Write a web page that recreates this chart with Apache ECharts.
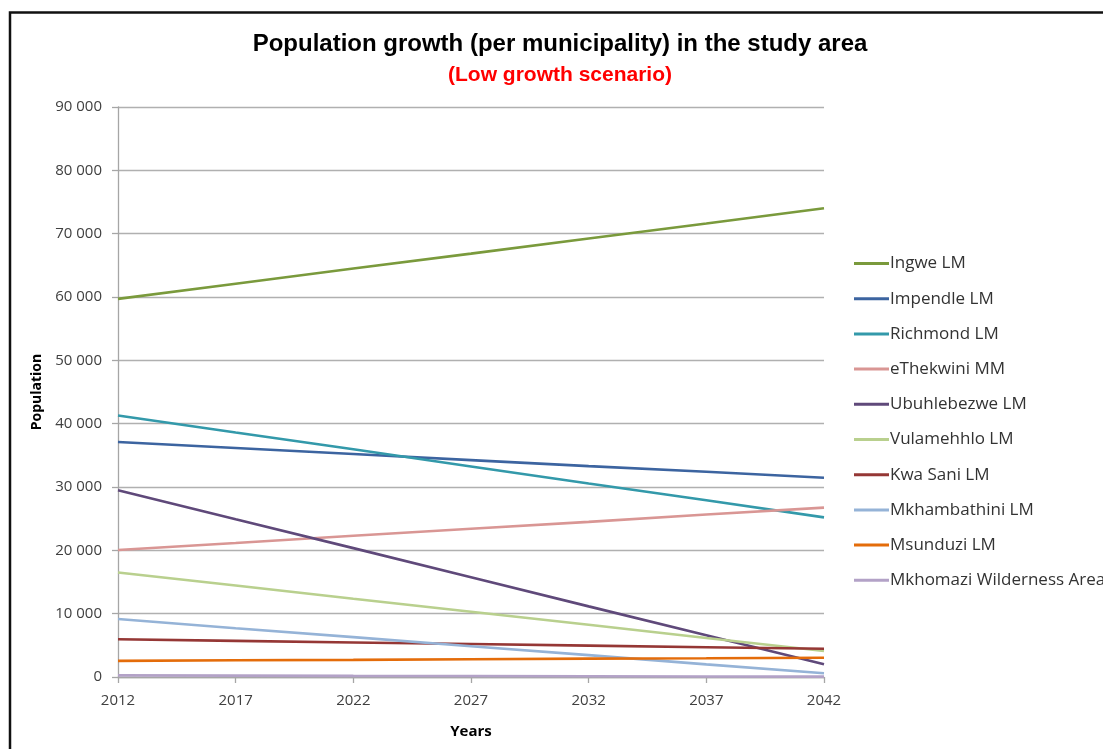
<!DOCTYPE html>
<html>
<head>
<meta charset="utf-8">
<title>Population growth (per municipality) in the study area</title>
<script src="https://cdn.jsdelivr.net/npm/echarts@6/dist/echarts.min.js"></script>
<style>
  html, body { margin: 0; padding: 0; background: #ffffff; }
  #chart { width: 1103px; height: 749px; }
</style>
</head>
<body>
<div id="chart"></div>
<script>
// Projection years shown on the horizontal axis
const years = ['2012', '2017', '2022', '2027', '2032', '2037', '2042'];

// Projected population per municipality (low growth scenario)
const ingwe        = [59700, 62100, 64500, 66850, 69250, 71600, 74000];
const impendle     = [37100, 36150, 35200, 34250, 33300, 32400, 31450];
const richmond     = [41300, 38600, 35950, 33250, 30550, 27900, 25200];
const eThekwini    = [20050, 21150, 22300, 23400, 24500, 25650, 26750];
const ubuhlebezwe  = [29500, 24900, 20350, 15750, 11150, 6600, 2000];
const vulamehhlo   = [16500, 14450, 12350, 10300, 8250, 6150, 4100];
const kwaSani      = [5950, 5700, 5450, 5200, 4950, 4700, 4450];
const mkhambathini = [9150, 7700, 6300, 4850, 3450, 2000, 600];
const msunduzi     = [2550, 2650, 2700, 2800, 2900, 2950, 3050];
const mkhomazi     = [250, 220, 180, 150, 120, 90, 60];

// Value axis tick range
const yTicks = { min: 0, max: 90000, interval: 10000 };

const seriesDefs = [
  { name: 'Ingwe LM',                 data: ingwe,        color: '#7a9a3c' },
  { name: 'Impendle LM',              data: impendle,     color: '#3c64a0' },
  { name: 'Richmond LM',              data: richmond,     color: '#3399aa' },
  { name: 'eThekwini MM',             data: eThekwini,    color: '#d99694' },
  { name: 'Ubuhlebezwe LM',           data: ubuhlebezwe,  color: '#5f497a' },
  { name: 'Vulamehhlo LM',            data: vulamehhlo,   color: '#b9d08e' },
  { name: 'Kwa Sani LM',              data: kwaSani,      color: '#953735' },
  { name: 'Mkhambathini LM',          data: mkhambathini, color: '#95b3d7' },
  { name: 'Msunduzi LM',              data: msunduzi,     color: '#e46c0a' },
  { name: 'Mkhomazi Wilderness Area', data: mkhomazi,     color: '#b3a2c7' }
];

const FONT = '"Open Sans", "Liberation Sans", sans-serif';
const TITLE_FONT = '"Liberation Sans Narrow", "Liberation Sans", sans-serif';

const chart = echarts.init(document.getElementById('chart'), null, { renderer: 'canvas' });

chart.setOption({
  backgroundColor: '#ffffff',
  animation: false,
  textStyle: { fontFamily: FONT },
  title: [
    {
      text: 'Population growth (per municipality) in the study area',
      left: 555, top: 27, textAlign: 'center',
      textStyle: { fontFamily: TITLE_FONT, fontSize: 24, fontWeight: 'bold', color: '#000000' }
    },
    {
      text: '(Low growth scenario)',
      left: 555, top: 60, textAlign: 'center',
      textStyle: { fontFamily: TITLE_FONT, fontSize: 21, fontWeight: 'bold', color: '#ff0000' }
    }
  ],
  graphic: [
    {
      // outer chart frame
      type: 'rect', silent: true, z: 100,
      shape: { x: 10, y: 12.5, width: 1200, height: 800 },
      style: { fill: 'none', stroke: '#111111', lineWidth: 2.5 }
    }
  ],
  legend: {
    orient: 'vertical',
    left: 849, top: 250,
    itemWidth: 35, itemHeight: 3, itemGap: 18.2,
    icon: 'rect',
    data: seriesDefs.map(s => s.name),
    textStyle: { fontFamily: FONT, fontSize: 17, color: '#333333', padding: [0, 0, 0, -4] }
  },
  grid: { left: 118, right: 279, top: 107, bottom: 72, containLabel: false },
  xAxis: {
    type: 'category',
    data: years,
    boundaryGap: false,
    name: 'Years',
    nameLocation: 'middle',
    nameGap: 47,
    nameTextStyle: { fontFamily: FONT, fontSize: 15, fontWeight: 'bold', color: '#000000' },
    axisLine: { lineStyle: { color: '#a6a6a6', width: 1.3 } },
    axisTick: { show: true, inside: false, length: 6, lineStyle: { color: '#a6a6a6', width: 1.3 } },
    axisLabel: { fontFamily: FONT, fontSize: 15, color: '#404040', margin: 16 },
    splitLine: { show: false }
  },
  yAxis: {
    type: 'value',
    min: yTicks.min, max: yTicks.max, interval: yTicks.interval,
    name: 'Population',
    nameLocation: 'middle',
    nameGap: 73,
    nameRotate: 90,
    nameTextStyle: { fontFamily: FONT, fontSize: 14, fontWeight: 'bold', color: '#000000' },
    axisLine: { show: true, lineStyle: { color: '#a6a6a6', width: 1.3 } },
    axisTick: { show: true, inside: false, length: 6, lineStyle: { color: '#a6a6a6', width: 1.3 } },
    axisLabel: {
      fontFamily: FONT, fontSize: 15, color: '#404040', margin: 16,
      formatter: v => v === 0 ? '0' : String(v).replace(/\B(?=(\d{3})+(?!\d))/g, ' ')
    },
    splitLine: { show: true, lineStyle: { color: '#b0b0b0', width: 1.3 } }
  },
  series: seriesDefs.map(s => ({
    name: s.name,
    type: 'line',
    data: s.data,
    showSymbol: false,
    symbol: 'none',
    lineStyle: { color: s.color, width: 2.6 },
    itemStyle: { color: s.color },
    emphasis: { disabled: true }
  }))
});
</script>
</body>
</html>
